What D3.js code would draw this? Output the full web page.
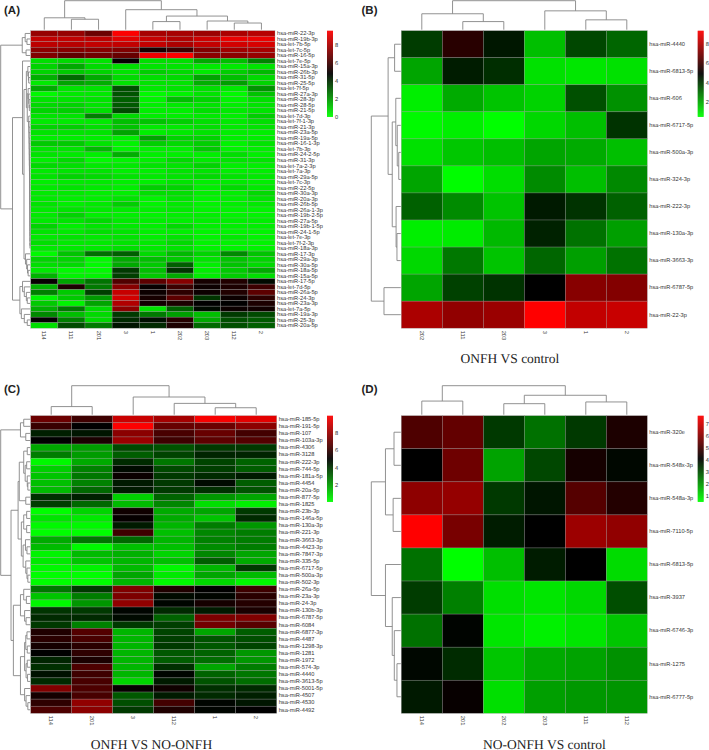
<!DOCTYPE html>
<html lang="en">
<head>
	<meta charset="utf-8">
	<title>miRNA heatmaps</title>
	<style type="text/css">
		body {
			margin: 0;
			background: #fff;
		}
		svg {
			display: block;
			text-rendering: geometricPrecision;
		}
		.axis text {
			font-family: "Liberation Sans", Arial, sans-serif;
			font-size: 5.7px;
			fill: #333;
		}
		.axis path,
		.axis line {
			display: none;
		}
		.dendro {
			fill: none;
			stroke: #868686;
			stroke-width: 0.9px;
		}
		.cell {
			stroke: #999;
			stroke-width: 0.5px;
			stroke-opacity: 0.6;
		}
		.letter {
			font-family: "Liberation Sans", Arial, sans-serif;
			font-weight: bold;
			font-size: 11.5px;
			fill: #222;
		}
		.caption {
			font-family: "Liberation Serif", "Times New Roman", serif;
			font-size: 13.5px;
			fill: #222;
			text-anchor: middle;
		}
	</style>
</head>

<body>
	<div id="vis"></div>

	<script src="https://cdn.jsdelivr.net/npm/d3@7"></script>

	<script type="text/javascript">

		//Panel A
		var colsA = ["114", "111", "201", "3", "1", "202", "203", "112", "2"];
		var rowsA = ["hsa-miR-22-3p", "hsa-miR-19b-3p", "hsa-let-7b-5p", "hsa-let-7c-5p", "hsa-miR-16-5p", "hsa-let-7e-5p",
			"hsa-miR-15a-3p", "hsa-miR-26b-3p", "hsa-miR-31-5p", "hsa-miR-25-5p", "hsa-let-7f-5p", "hsa-miR-27a-3p",
			"hsa-miR-28-3p", "hsa-miR-28-5p", "hsa-miR-21-5p", "hsa-let-7d-3p", "hsa-let-7f-1-3p", "hsa-miR-21-3p",
			"hsa-miR-23a-5p", "hsa-miR-19a-5p", "hsa-miR-16-1-3p", "hsa-let-7b-3p", "hsa-miR-24-2-5p", "hsa-miR-31-3p",
			"hsa-let-7a-2-3p", "hsa-let-7a-3p", "hsa-miR-29a-5p", "hsa-let-7c-3p", "hsa-miR-22-5p", "hsa-miR-30a-3p",
			"hsa-miR-20a-3p", "hsa-miR-26b-5p", "hsa-miR-26a-1-3p", "hsa-miR-19b-2-5p", "hsa-miR-27a-5p", "hsa-miR-19b-1-5p",
			"hsa-miR-24-1-5p", "hsa-let-7e-3p", "hsa-let-7f-2-3p", "hsa-miR-18a-3p", "hsa-miR-17-3p", "hsa-miR-29a-3p",
			"hsa-miR-30a-5p", "hsa-miR-18a-5p", "hsa-miR-15a-5p", "hsa-miR-17-5p", "hsa-let-7d-5p", "hsa-miR-26a-5p",
			"hsa-miR-24-3p", "hsa-miR-23a-3p", "hsa-let-7a-5p", "hsa-miR-19a-3p", "hsa-miR-25-3p", "hsa-miR-20a-5p"];
		var valuesA = [
			[7.6, 7.6, 6.8, 9.5, 7.9, 7.9, 7.7, 8.0, 8.2],
			[8.4, 8.4, 8.3, 9.0, 8.5, 8.1, 8.6, 9.2, 9.2],
			[8.3, 8.2, 8.4, 8.4, 8.4, 8.0, 8.4, 8.7, 8.8],
			[7.4, 7.3, 7.3, 7.2, 5.2, 5.9, 7.2, 7.8, 7.9],
			[7.2, 6.6, 6.9, 6.7, 9.2, 9.5, 7.4, 7.4, 7.6],
			[0.6, 0.7, 0.5, 4.9, 0.6, 0.6, 1.6, 1.2, 2.3],
			[0.8, 1.6, 0.7, 0.6, 0.5, 0.5, 0.4, 0.4, 0.5],
			[0.8, 1.0, 0.8, 0.5, 0.9, 0.7, 0.4, 0.9, 1.3],
			[1.5, 2.8, 1.6, 0.7, 0.6, 0.7, 1.7, 1.2, 0.7],
			[0.4, 1.7, 1.5, 0.5, 0.5, 0.5, 1.5, 1.8, 0.8],
			[1.6, 0.5, 0.5, 3.3, 0.4, 0.5, 0.6, 0.4, 2.0],
			[0.1, 0.4, 0.4, 3.2, 0.1, 0.2, 0.5, 0.1, 1.1],
			[0.5, 0.5, 0.5, 3.0, 0.2, 1.2, 0.8, 0.2, 0.6],
			[0.7, 0.8, 0.5, 3.1, 0.3, 0.4, 0.5, 0.3, 0.5],
			[0.8, 0.9, 0.6, 3.4, 0.3, 0.3, 0.6, 0.4, 0.5],
			[0.5, 0.5, 2.4, 0.7, 0.3, 0.3, 0.4, 0.3, 0.9],
			[0.4, 0.4, 0.4, 1.2, 1.1, 0.9, 0.6, 0.4, 0.6],
			[0.8, 0.9, 0.6, 1.1, 0.4, 0.4, 0.6, 0.4, 0.5],
			[0.5, 0.5, 0.5, 1.7, 0.3, 0.4, 0.5, 0.3, 0.3],
			[0.3, 0.3, 0.3, 0.3, 1.7, 0.8, 0.8, 0.3, 0.3],
			[1.0, 1.0, 0.5, 0.2, 0.9, 0.7, 0.9, 0.2, 0.5],
			[0.5, 0.5, 1.3, 0.2, 0.3, 0.3, 1.0, 0.2, 0.3],
			[0.5, 0.4, 0.3, 1.5, 0.3, 0.3, 0.3, 0.6, 0.3],
			[0.3, 0.7, 0.1, 0.2, 0.3, 0.7, 0.4, 0.5, 0.5],
			[0.7, 0.6, 0.4, 0.4, 0.5, 0.5, 0.8, 0.3, 0.3],
			[0.4, 0.5, 0.5, 0.3, 0.3, 0.5, 0.5, 0.3, 0.3],
			[0.5, 0.8, 0.7, 0.5, 0.4, 0.5, 0.7, 0.5, 0.4],
			[0.3, 0.4, 0.4, 0.3, 0.3, 0.5, 0.3, 0.4, 0.3],
			[0.4, 0.5, 0.4, 0.3, 0.9, 0.8, 0.3, 0.7, 0.4],
			[0.4, 0.4, 0.3, 0.3, 0.6, 0.6, 0.3, 0.3, 0.7],
			[0.4, 0.3, 0.3, 0.5, 0.2, 0.5, 0.2, 0.3, 0.5],
			[0.5, 0.3, 0.4, 0.9, 0.2, 0.4, 0.2, 0.3, 0.4],
			[0.4, 0.5, 0.4, 0.4, 0.3, 0.4, 0.2, 0.2, 0.2],
			[0.4, 0.8, 0.3, 0.3, 0.2, 0.3, 0.3, 0.2, 0.2],
			[0.4, 0.5, 0.7, 0.4, 0.3, 0.3, 0.3, 0.3, 0.3],
			[0.8, 0.3, 0.5, 0.4, 0.3, 0.7, 0.3, 0.3, 0.3],
			[0.5, 0.4, 0.6, 0.5, 0.3, 0.3, 0.2, 0.2, 0.2],
			[0.4, 0.5, 0.4, 0.5, 0.3, 0.5, 0.2, 0.4, 0.2],
			[0.6, 0.4, 0.4, 0.5, 0.4, 0.7, 0.2, 0.2, 0.2],
			[0.4, 0.4, 0.4, 0.6, 0.4, 0.5, 0.2, 0.2, 0.2],
			[0.1, 1.1, 2.7, 3.0, 0.7, 1.3, 0.8, 2.2, 1.1],
			[0.8, 0.8, 0.1, 1.6, 1.2, 1.0, 0.5, 1.1, 0.8],
			[0.6, 0.7, 0.1, 1.6, 1.0, 3.0, 0.3, 1.1, 0.7],
			[0.4, 0.1, 0.1, 3.7, 1.2, 3.8, 0.3, 1.0, 1.6],
			[1.4, 0.2, 0.2, 3.6, 1.0, 1.6, 0.3, 0.9, 0.6],
			[4.9, 1.7, 2.6, 6.3, 6.5, 7.3, 5.2, 5.4, 4.6],
			[1.5, 5.3, 2.5, 7.3, 4.9, 5.9, 5.0, 5.3, 5.9],
			[2.4, 1.0, 3.6, 8.5, 5.0, 5.6, 5.0, 5.4, 6.5],
			[0.2, 1.0, 1.9, 8.7, 5.2, 6.5, 3.8, 5.0, 5.6],
			[1.0, 0.2, 1.7, 8.1, 5.1, 5.3, 4.8, 4.8, 5.3],
			[1.5, 2.5, 0.7, 7.4, 0.5, 3.0, 4.6, 5.0, 5.1],
			[2.2, 1.2, 0.7, 3.7, 2.5, 1.8, 1.2, 3.7, 3.4],
			[4.8, 2.4, 0.7, 4.0, 4.5, 5.5, 1.6, 3.3, 3.1],
			[0.6, 3.4, 2.5, 4.4, 4.0, 5.3, 2.8, 3.3, 3.0]
		];
		var rangeA = [0, 4.78, 9.55];
		var ticksA = [0, 2, 4, 6, 8];
		//trees are [height, left, right], leaves are indexes
		var colTreeA = [1, [0.41, 0, [0.36, 1, 2]],
			[0.69, 3, [0.47, [0.28, 4, 5], [0.3, 6, [0.23, 7, 8]]]]];
		var rowTreeA = [1,
			[0.27, [0.17, 0, [0.11, 1, 2]], [0.14, 3, 4]],
			[0.6,
				[0.26, 5, [0.21,
					[0.13,
						[0.08, 6, [0.06, 7, [0.05, 8, 9]]],
						[0.1,
							[0.07, 10, [0.05, 11, [0.04, 12, [0.03, 13, 14]]]],
							[0.05, 15, [0.045, 16, [0.04, 17, [0.037, 18, [0.034, 19, [0.032, 20, [0.03, 21,
								[0.028, 22, [0.026, 23, [0.024, 24, [0.022, 25, [0.02, 26, [0.019, 27, [0.018, 28,
								[0.017, 29, [0.016, 30, [0.015, 31, [0.014, 32, [0.013, 33, [0.012, 34, [0.011, 35,
								[0.01, 36, [0.009, 37, [0.008, 38, 39]]]]]]]]]]]]]]]]]]]]]]]]
						]
					],
					[0.16, 40, [0.12, 41, [0.09, 42, [0.07, 43, 44]]]]
				]],
				[0.35,
					[0.26, 45, [0.2, 46, [0.13, 47, [0.1, 48, 49]]]],
					[0.3, 50, [0.2, 51, [0.1, 52, 53]]]
				]
			]
		];

		//Panel B
		var colsB = ["202", "111", "203", "3", "1", "2"];
		var rowsB = ["hsa-miR-4440", "hsa-miR-6813-5p", "hsa-miR-606", "hsa-miR-6717-5p", "hsa-miR-500a-3p", "hsa-miR-324-3p",
			"hsa-miR-222-3p", "hsa-miR-130a-3p", "hsa-miR-3663-3p", "hsa-miR-6787-5p", "hsa-miR-22-3p"];
		var valuesB = [
			[3.85, 5.6, 4.5, 1.55, 3.65, 3.1],
			[2.0, 4.4, 4.1, 0.95, 0.85, 0.95],
			[0.7, 1.9, 1.45, 1.2, 3.5, 2.35],
			[0.5, 0.7, 0.42, 1.1, 1.55, 4.0],
			[0.95, 1.4, 1.55, 2.0, 1.9, 1.55],
			[2.0, 0.45, 1.0, 2.45, 1.55, 2.5],
			[3.2, 2.45, 1.45, 4.45, 4.0, 3.2],
			[0.7, 0.75, 1.65, 4.3, 2.9, 2.1],
			[1.1, 2.8, 1.45, 3.1, 2.1, 2.9],
			[2.0, 3.75, 4.0, 4.9, 7.27, 7.2],
			[7.9, 7.45, 7.6, 9.37, 8.3, 8.4]
		];
		var rangeB = [0.42, 4.9, 9.37];
		var ticksB = [2, 4, 6, 8];
		var colTreeB = [1, [0.55, 0, [0.28, 1, 2]], [0.65, 3, [0.34, 4, 5]]];
		var rowTreeB = [1,
			[0.43,
				[0.21, 0, 1],
				[0.29,
					[0.17, 2, [0.12, 3, [0.07, 4, 5]]],
					[0.16, 6, [0.13, 7, 8]]
				]
			],
			[0.57, 9, 10]
		];

		//Panel C
		var colsC = ["114", "201", "3", "112", "1", "2"];
		var rowsC = ["hsa-miR-185-5p", "hsa-miR-191-5p", "hsa-miR-107", "hsa-miR-103a-3p", "hsa-miR-4306", "hsa-miR-3128",
			"hsa-miR-222-3p", "hsa-miR-744-5p", "hsa-miR-181a-5p", "hsa-miR-4454", "hsa-miR-20a-5p", "hsa-miR-877-5p",
			"hsa-miR-1825", "hsa-miR-23b-3p", "hsa-miR-146a-5p", "hsa-miR-130a-3p", "hsa-miR-221-3p", "hsa-miR-3663-3p",
			"hsa-miR-4423-3p", "hsa-miR-7847-3p", "hsa-miR-335-5p", "hsa-miR-6717-5p", "hsa-miR-500a-3p", "hsa-miR-502-3p",
			"hsa-miR-26a-5p", "hsa-miR-23a-3p", "hsa-miR-24-3p", "hsa-miR-130b-3p", "hsa-miR-6787-5p", "hsa-miR-6084",
			"hsa-miR-6877-3p", "hsa-miR-4487", "hsa-miR-1298-3p", "hsa-miR-1281", "hsa-miR-1972", "hsa-miR-574-3p",
			"hsa-miR-4440", "hsa-miR-3613-5p", "hsa-miR-5001-5p", "hsa-miR-4507", "hsa-miR-4530", "hsa-miR-4492"];
		var valuesC = [
			[7.1, 6.2, 8.9, 8.2, 9.8, 9.4],
			[6.1, 5.0, 9.9, 7.0, 7.1, 7.7],
			[4.4, 4.6, 7.7, 6.4, 7.0, 6.3],
			[5.0, 5.5, 8.0, 6.2, 6.8, 6.6],
			[1.8, 2.0, 3.6, 3.4, 3.9, 3.9],
			[2.6, 2.0, 3.2, 3.7, 4.3, 4.3],
			[0.2, 1.7, 4.2, 2.7, 3.7, 3.1],
			[1.0, 2.5, 4.8, 3.6, 3.8, 3.2],
			[1.2, 2.7, 5.2, 3.9, 4.2, 4.5],
			[1.3, 2.5, 4.5, 3.9, 4.8, 3.2],
			[1.4, 3.0, 4.5, 3.9, 4.1, 3.4],
			[4.1, 4.4, 1.0, 3.1, 2.1, 1.8],
			[3.8, 3.0, 1.4, 2.4, 0.7, 0.4],
			[0.1, 0.9, 5.3, 1.7, 1.8, 3.9],
			[0.6, 0.5, 5.1, 1.7, 1.2, 4.2],
			[0.2, 0.2, 4.5, 1.5, 2.6, 2.1],
			[0.1, 0.1, 6.2, 1.3, 2.4, 2.6],
			[1.7, 2.7, 3.0, 1.5, 2.5, 2.6],
			[1.4, 0.2, 1.3, 1.3, 2.3, 2.6],
			[0.3, 1.4, 1.6, 0.9, 2.4, 1.8],
			[0.5, 1.2, 1.5, 1.3, 3.2, 1.7],
			[0.2, 0.3, 1.4, 0.2, 1.5, 3.9],
			[0.1, 0.1, 1.8, 0.5, 1.8, 1.4],
			[0.1, 0.1, 1.5, 0.2, 0.8, 0.2],
			[2.7, 3.9, 7.5, 5.6, 5.0, 6.2],
			[1.2, 2.6, 7.4, 4.8, 4.9, 5.8],
			[0.2, 2.1, 7.8, 4.9, 5.4, 5.7],
			[4.0, 3.9, 4.9, 4.2, 4.5, 5.5],
			[4.2, 4.2, 4.8, 3.1, 7.4, 7.5],
			[3.9, 2.5, 3.9, 3.8, 7.2, 6.7],
			[5.6, 6.6, 1.5, 3.7, 1.8, 3.2],
			[5.8, 6.4, 1.5, 3.8, 3.4, 3.5],
			[5.4, 5.8, 1.5, 3.9, 3.3, 3.7],
			[5.0, 5.9, 1.5, 3.3, 3.1, 2.1],
			[4.3, 5.5, 1.5, 3.2, 2.9, 2.1],
			[4.1, 6.5, 1.5, 4.1, 1.8, 2.6],
			[4.7, 6.2, 1.5, 4.9, 3.1, 2.7],
			[4.2, 6.4, 0.9, 4.5, 3.4, 2.9],
			[7.5, 6.5, 5.1, 5.3, 4.1, 4.2],
			[5.4, 6.4, 3.3, 4.5, 4.2, 4.4],
			[5.9, 7.8, 3.5, 6.3, 4.9, 4.6],
			[6.5, 7.7, 3.9, 5.6, 4.9, 5.0]
		];
		var rangeC = [0.09, 5, 9.94];
		var ticksC = [2, 4, 6, 8];
		var colTreeC = [1, [0.28, 0, 1], [0.61, 2, [0.39, 3, [0.24, 4, 5]]]];
		var rowTreeC = [1,
			[0.33, [0.22, 0, 1], [0.15, 2, 3]],
			[0.65,
				[0.41,
					[0.37,
						[0.22, [0.1, 4, 5], [0.17, [0.12, 6, 7], [0.1, 8, [0.08, 9, 10]]]],
						[0.15, 11, 12]
					],
					[0.3,
						[0.22, [0.12, 13, 14], [0.12, 15, 16]],
						[0.24, [0.16, 17, [0.11, 18, 19]], [0.15, 20, [0.11, 21, [0.08, 22, 23]]]]
					]
				],
				[0.57,
					[0.33,
						[0.22, 24, [0.13, 25, 26]],
						[0.19, 27, [0.14, 28, 29]]
					],
					[0.33,
						[0.19,
							[0.15, [0.11, 30, 31], [0.1, 32, 33]],
							[0.14, [0.1, 34, 35], [0.09, 36, 37]]
						],
						[0.19, 38, [0.14, 39, [0.08, 40, 41]]]
					]
				]
			]
		];

		//Panel D
		var colsD = ["114", "201", "202", "203", "111", "112"];
		var rowsD = ["hsa-miR-320e", "hsa-miR-548x-3p", "hsa-miR-548a-3p", "hsa-miR-7110-5p", "hsa-miR-6813-5p", "hsa-miR-3937",
			"hsa-miR-6746-3p", "hsa-miR-1275", "hsa-miR-6777-5p"];
		var valuesD = [
			[5.2, 5.5, 3.3, 2.5, 3.3, 4.5],
			[4.1, 5.65, 1.8, 3.1, 4.4, 4.0],
			[6.1, 6.2, 3.3, 3.8, 5.3, 4.6],
			[7.7, 5.8, 3.7, 4.1, 6.3, 6.15],
			[2.5, 0.5, 1.4, 3.7, 4.1, 1.0],
			[3.25, 2.3, 0.95, 0.85, 1.05, 3.0],
			[2.5, 4.05, 0.85, 0.7, 0.85, 1.3],
			[4.0, 3.5, 1.3, 1.7, 1.8, 2.05],
			[3.75, 4.2, 0.95, 1.85, 1.95, 2.0]
		];
		var rangeD = [0.5, 4.1, 7.7];
		var ticksD = [1, 2, 3, 4, 5, 6, 7];
		var colTreeD = [1, [0.47, 0, 1], [0.67, [0.38, 2, 3], [0.44, 4, 5]]];
		var rowTreeD = [1,
			[0.52, [0.23, 0, 1], [0.26, 2, 3]],
			[0.52, 4, [0.29, 5, [0.22, 6, [0.13, 7, 8]]]]
		];

		var w = 709;
		var h = 750;
		var dendroSize = 30;
		var legendWidth = 6;
		var legendHeight = 86;

		var svg = d3.select("#vis")
					.append("svg")
					.attr("width", w)
					.attr("height", h);

		//Draw one dendrogram, returns the leaf-axis position of the node
		function drawTree(g, node, pos, depth) {
			if (!Array.isArray(node)) {
				return pos(node) + pos.bandwidth() / 2;
			}
			var a = drawTree(g, node[1], pos, depth);
			var b = drawTree(g, node[2], pos, depth);
			g.push({ a: a, b: b, ha: Array.isArray(node[1]) ? node[1][0] : 0, hb: Array.isArray(node[2]) ? node[2][0] : 0, h: node[0] });
			return (a + b) / 2;
		}

		function panel(p) {
			var root = svg.append("g").attr("transform", "translate(" + p.x + "," + p.y + ")");

			var xScale = d3.scaleBand().domain(d3.range(p.cols.length)).range([0, p.w]);
			var yScale = d3.scaleBand().domain(d3.range(p.rows.length)).range([0, p.h]);
			var color = d3.scaleLinear().domain(p.range).range(["#00ff00", "#000000", "#ff0000"]);

			//Cells
			p.values.forEach(function(row, i) {
				root.selectAll(null)
					.data(row)
					.enter()
					.append("rect")
					.attr("class", "cell")
					.attr("x", function(d, j) { return xScale(j); })
					.attr("y", yScale(i))
					.attr("width", xScale.bandwidth())
					.attr("height", yScale.bandwidth())
					.attr("fill", function(d) { return color(d); });
			});

			//Labels
			var rowAxis = d3.axisRight(yScale)
							.tickSize(0)
							.tickPadding(2)
							.tickFormat(function(d) { return p.rows[d]; });
			root.append("g")
				.attr("class", "axis")
				.attr("transform", "translate(" + p.w + ",0)")
				.call(rowAxis);

			var colAxis = d3.axisBottom(xScale)
							.tickSize(0)
							.tickFormat(function(d) { return p.cols[d]; });
			root.append("g")
				.attr("class", "axis")
				.attr("transform", "translate(0," + p.h + ")")
				.call(colAxis)
				.selectAll("text")
				.attr("transform", "rotate(90)")
				.attr("x", 2.5)
				.attr("y", 0)
				.attr("dy", "0.35em")
				.attr("text-anchor", "start");

			//Column dendrogram
			var colLinks = [];
			drawTree(colLinks, p.colTree, xScale);
			var colH = d3.scaleLinear().domain([0, 1]).range([-1, -dendroSize]);
			root.selectAll(null)
				.data(colLinks)
				.enter()
				.append("path")
				.attr("class", "dendro")
				.attr("d", function(d) {
					var path = d3.path();
					path.moveTo(d.a, colH(d.ha));
					path.lineTo(d.a, colH(d.h));
					path.lineTo(d.b, colH(d.h));
					path.lineTo(d.b, colH(d.hb));
					return path.toString();
				});

			//Row dendrogram
			var rowLinks = [];
			drawTree(rowLinks, p.rowTree, yScale);
			var rowH = d3.scaleLinear().domain([0, 1]).range([-0.5, -dendroSize]);
			root.selectAll(null)
				.data(rowLinks)
				.enter()
				.append("path")
				.attr("class", "dendro")
				.attr("d", function(d) {
					var path = d3.path();
					path.moveTo(rowH(d.ha), d.a);
					path.lineTo(rowH(d.h), d.a);
					path.lineTo(rowH(d.h), d.b);
					path.lineTo(rowH(d.hb), d.b);
					return path.toString();
				});

			//Colour key
			var legendScale = d3.scaleLinear()
								.domain([p.range[0], p.range[2]])
								.range([legendHeight, 0]);
			var steps = d3.range(legendHeight).map(function(d) { return legendScale.invert(d + 0.5); });
			var legend = root.append("g").attr("transform", "translate(" + p.legendX + ",0)");
			legend.selectAll("rect")
				.data(steps)
				.enter()
				.append("rect")
				.attr("x", 0)
				.attr("y", function(d, i) { return i; })
				.attr("width", legendWidth)
				.attr("height", 1.2)
				.attr("fill", function(d) { return color(d); });
			legend.append("g")
				.attr("class", "axis")
				.attr("transform", "translate(" + legendWidth + ",0)")
				.call(d3.axisRight(legendScale).tickValues(p.ticks).tickSize(0).tickPadding(2));

			//Panel letter and caption
			svg.append("text")
				.attr("class", "letter")
				.attr("x", p.letterX)
				.attr("y", p.letterY)
				.text(p.letter);
			if (p.caption) {
				svg.append("text")
					.attr("class", "caption")
					.attr("x", p.captionX)
					.attr("y", p.captionY)
					.text(p.caption);
			}
		}

		panel({ x: 30.7, y: 30.7, w: 244.3, h: 297.5, legendX: 296.3, cols: colsA, rows: rowsA, values: valuesA,
			range: rangeA, ticks: ticksA, colTree: colTreeA, rowTree: rowTreeA,
			letter: "(A)", letterX: 4, letterY: 13.5 });
		panel({ x: 401.3, y: 30.7, w: 246, h: 297.5, legendX: 296.4, cols: colsB, rows: rowsB, values: valuesB,
			range: rangeB, ticks: ticksB, colTree: colTreeB, rowTree: rowTreeB,
			letter: "(B)", letterX: 361.5, letterY: 13.5, caption: "ONFH VS control", captionX: 510, captionY: 362.7 });
		panel({ x: 30.7, y: 415.7, w: 246, h: 297.6, legendX: 296.3, cols: colsC, rows: rowsC, values: valuesC,
			range: rangeC, ticks: ticksC, colTree: colTreeC, rowTree: rowTreeC,
			letter: "(C)", letterX: 4, letterY: 392.5, caption: "ONFH VS NO-ONFH", captionX: 151.5, captionY: 748.5 });
		panel({ x: 401.3, y: 415.7, w: 246, h: 297.6, legendX: 296.4, cols: colsD, rows: rowsD, values: valuesD,
			range: rangeD, ticks: ticksD, colTree: colTreeD, rowTree: rowTreeD,
			letter: "(D)", letterX: 361.5, letterY: 392.5, caption: "NO-ONFH VS control", captionX: 544.5, captionY: 748.5 });

	</script>
</body>
</html>
